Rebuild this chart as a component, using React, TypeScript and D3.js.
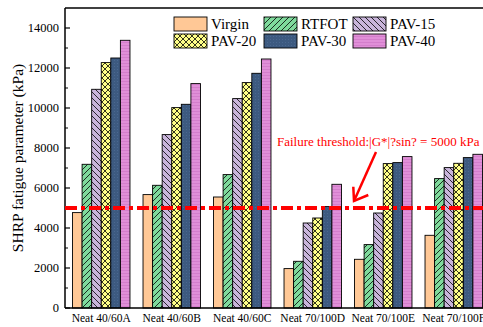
import React from "react";
import * as d3 from "d3";

const categories = ["Neat 40/60A", "Neat 40/60B", "Neat 40/60C", "Neat 70/100D", "Neat 70/100E", "Neat 70/100F"];
const seriesNames = ["Virgin", "RTFOT", "PAV-15", "PAV-20", "PAV-30", "PAV-40"];
const virgin = [4770, 5670, 5550, 1970, 2435, 3635];
const rtfot = [7185, 6135, 6670, 2335, 3170, 6470];
const pav15 = [10935, 8670, 10470, 4250, 4750, 7020];
const pav20 = [12270, 10020, 11270, 4500, 7220, 7235];
const pav30 = [12500, 10185, 11735, 5070, 7270, 7520];
const pav40 = [13385, 11220, 12450, 6185, 7570, 7685];
const yTicks = [0, 2000, 4000, 6000, 8000, 10000, 12000, 14000];
const threshold = 5000;
const thresholdLabel = "Failure threshold:|G*|?sin? = 5000 kPa";

const seriesValues = [virgin, rtfot, pav15, pav20, pav30, pav40];
const fills = ["#FFC896", "url(#pRT)", "url(#p15)", "url(#p20)", "url(#p30)", "url(#p40)"];

const W = 483, H = 327;
const left = 65, right = 489, top = 8, bottom = 308;
const fontStyle = { fontFamily: '"Liberation Serif", "Times New Roman", Times, "DejaVu Serif", serif' };

export default function App() {
  const x = d3.scaleBand<string>().domain(categories).range([left + 1, right]).paddingInner(0.185).paddingOuter(0.0925);
  const xs = d3.scaleBand<string>().domain(seriesNames).range([0, x.bandwidth()]);
  const y = d3.scaleLinear().domain([0, 15000]).range([bottom, top]);
  const minor = d3.range(1000, 15000, 2000);
  const legendPos = [
    [174, 17], [264, 17], [353, 17],
    [174, 34], [264, 34], [353, 34],
  ];
  return (
    <svg width={W} height={H} style={{ position: "absolute", left: 0, top: 0, background: "#fff", ...fontStyle }}>
      <defs>
        <pattern id="pRT" patternUnits="userSpaceOnUse" width={6} height={6}>
          <rect width={6} height={6} fill="#7FDA9C" />
          <path d="M-1,7 L7,-1 M-2,2 L2,-2 M4,8 L8,4" stroke="#000" strokeWidth={0.8} />
        </pattern>
        <pattern id="p15" patternUnits="userSpaceOnUse" width={6} height={6}>
          <rect width={6} height={6} fill="#C9B5DB" />
          <path d="M-1,-1 L7,7 M-2,4 L2,8 M4,-2 L8,2" stroke="#000" strokeWidth={0.8} />
        </pattern>
        <pattern id="p20" patternUnits="userSpaceOnUse" width={6} height={6}>
          <rect width={6} height={6} fill="#FFFF88" />
          <path d="M-1,-1 L7,7 M-1,7 L7,-1" stroke="#000" strokeWidth={0.8} />
        </pattern>
        <pattern id="p30" patternUnits="userSpaceOnUse" width={3} height={3}>
          <rect width={3} height={3} fill="#3D5A80" />
          <rect width={1} height={1} fill="#4A6890" />
        </pattern>
        <pattern id="p40" patternUnits="userSpaceOnUse" width={3} height={3}>
          <rect width={3} height={3} fill="#E08FD8" />
          <rect width={3} height={1} fill="#D47ECC" />
        </pattern>
      </defs>

      {categories.map((c, ci) => (
        <g key={c}>
          {seriesNames.map((s, si) => {
            const v = seriesValues[si][ci];
            return (
              <rect key={s} x={(x(c) ?? 0) + (xs(s) ?? 0)} y={y(v)} width={xs.bandwidth()} height={bottom - y(v)}
                fill={fills[si]} stroke="#000" strokeWidth={0.9} />
            );
          })}
        </g>
      ))}

      {/* frame */}
      <line x1={left} x2={left} y1={top} y2={bottom} stroke="#000" strokeWidth={1.5} />
      <line x1={left} x2={W} y1={bottom} y2={bottom} stroke="#000" strokeWidth={1.5} />
      <line x1={left} x2={W} y1={top} y2={top} stroke="#000" strokeWidth={1.5} />

      {yTicks.map((t) => (
        <g key={t}>
          <line x1={left} x2={left + 5} y1={y(t)} y2={y(t)} stroke="#000" strokeWidth={1.2} />
          <text x={left - 6} y={y(t) + 4} textAnchor="end" style={fontStyle} fontSize={12.5}>{t}</text>
        </g>
      ))}
      {minor.map((t) => (
        <line key={t} x1={left} x2={left + 3} y1={y(t)} y2={y(t)} stroke="#000" strokeWidth={1} />
      ))}

      {categories.map((c) => (
        <text key={c} x={(x(c) ?? 0) + x.bandwidth() / 2} y={322} textAnchor="middle" style={fontStyle} fontSize={11.5}>{c}</text>
      ))}

      <text transform={`translate(23,${(top + bottom) / 2}) rotate(-90)`} textAnchor="middle" style={fontStyle} fontSize={15.5}>
        SHRP fatigue parameter (kPa)
      </text>

      {/* threshold */}
      <line x1={left} x2={W} y1={y(threshold)} y2={y(threshold)} stroke="#FF0000" strokeWidth={4} strokeDasharray="12,4,4,4" />
      <text x={277} y={146} style={fontStyle} fontSize={13} fill="#FF0000">{thresholdLabel}</text>
      <line x1={376} y1={152} x2={354} y2={201} stroke="#FF0000" strokeWidth={2.5} />
      <polyline points="353.3,186.7 354,201 368.3,195" fill="none" stroke="#FF0000" strokeWidth={2.5} />

      {/* legend */}
      {seriesNames.map((s, i) => (
        <g key={s}>
          <rect x={legendPos[i][0]} y={legendPos[i][1]} width={33} height={14} fill={fills[i]} stroke="#000" strokeWidth={0.9} />
          <text x={legendPos[i][0] + 37} y={legendPos[i][1] + 12} style={fontStyle} fontSize={15}>{s}</text>
        </g>
      ))}
    </svg>
  );
}
